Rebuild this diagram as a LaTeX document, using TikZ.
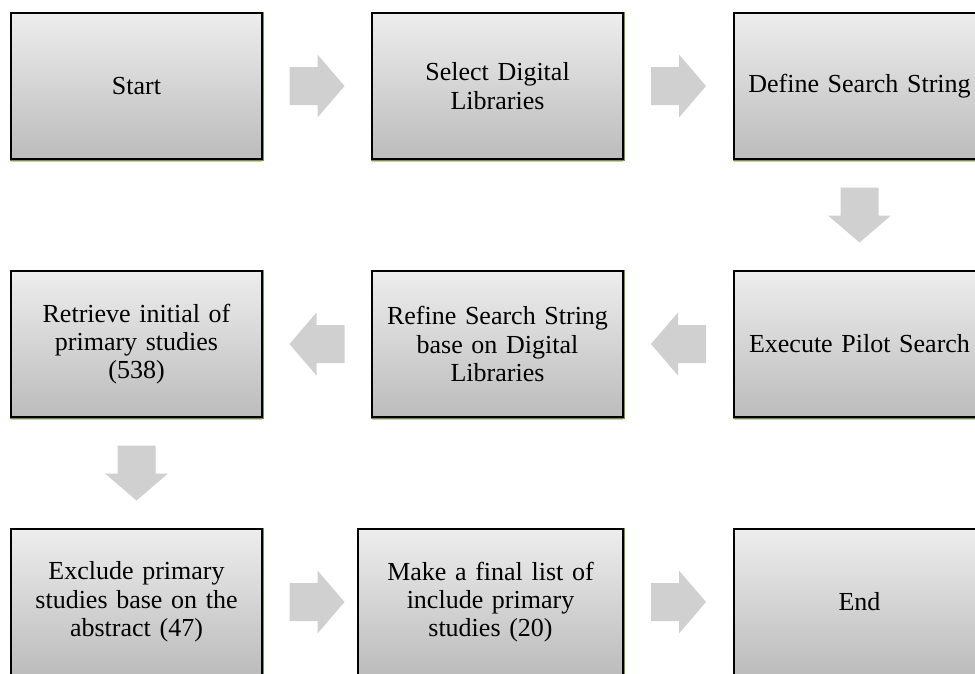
\documentclass[tikz,border=0pt]{standalone}
\usepackage{fontspec}
\setmainfont{Liberation Serif}
\usetikzlibrary{calc,shadows}
\definecolor{boxtop}{HTML}{EDEDED}
\definecolor{boxbot}{HTML}{BCBCBC}
\definecolor{glow}{HTML}{77933C}
\definecolor{arrowgray}{HTML}{D0D0D0}
\tikzset{
  stepbox/.style={rectangle, draw=black, line width=1.2pt,
    top color=boxtop, bottom color=boxbot,
    minimum width=251pt, minimum height=146pt, inner sep=4pt,
    text width=240pt, align=center,
    font=\fontsize{26pt}{28.3pt}\selectfont,
    drop shadow={shadow xshift=0pt, shadow yshift=-3pt, opacity=0.35, fill=black!60},
    preaction={draw=glow, line width=3pt, rounded corners=5pt}},
  barrow/.pic={\fill[arrowgray] (-27.5pt,-19pt) -- (0.5pt,-19pt) -- (0.5pt,-31.5pt) -- (27.5pt,0pt) -- (0.5pt,31.5pt) -- (0.5pt,19pt) -- (-27.5pt,19pt) -- cycle;}
}
\begin{document}
\begin{tikzpicture}[x=1pt,y=-1pt]
\useasboundingbox (0,0) rectangle (975,673);
% row 1
\node[stepbox] (start) at (136.5,86) {Start};
\node[stepbox] (select) at (497.5,86) {Select Digital\\Libraries};
\node[stepbox] (define) at (859.5,86) {Define Search String};
% row 2
\node[stepbox] (retrieve) at (136.5,344) {Retrieve initial of\\primary studies\\(538)};
\node[stepbox] (refine) at (497.5,344) {Refine Search String\\base on Digital\\Libraries};
\node[stepbox] (execute) at (859.5,344) {Execute Pilot Search};
% row 3
\node[stepbox] (exclude) at (136.5,602) {Exclude primary\\studies base on the\\abstract (47)};
\node[stepbox, minimum width=265pt] (final) at (490.5,602) {Make a final list of\\include primary\\studies (20)};
\node[stepbox] (end) at (859.5,602) {End};
% arrow anchors
\coordinate (a1) at ($(start.east)!0.5!(select.west)$);
\coordinate (a2) at ($(select.east)!0.5!(define.west)$);
\coordinate (d1) at ($(define.south)!0.5!(execute.north)$);
\coordinate (l1) at ($(execute.west)!0.5!(refine.east)$);
\coordinate (l2) at ($(refine.west)!0.5!(retrieve.east)$);
\coordinate (d2) at ($(retrieve.south)!0.5!(exclude.north)$);
\coordinate (r1) at (a1 |- exclude);
\coordinate (r2) at (a2 |- exclude);
\path (a1) pic {barrow};
\path (a2) pic {barrow};
\path (d1) pic[rotate=-90] {barrow};
\path (l1) pic[rotate=180] {barrow};
\path (l2) pic[rotate=180] {barrow};
\path (d2) pic[rotate=-90] {barrow};
\path (r1) pic {barrow};
\path (r2) pic {barrow};
\end{tikzpicture}
\end{document}
